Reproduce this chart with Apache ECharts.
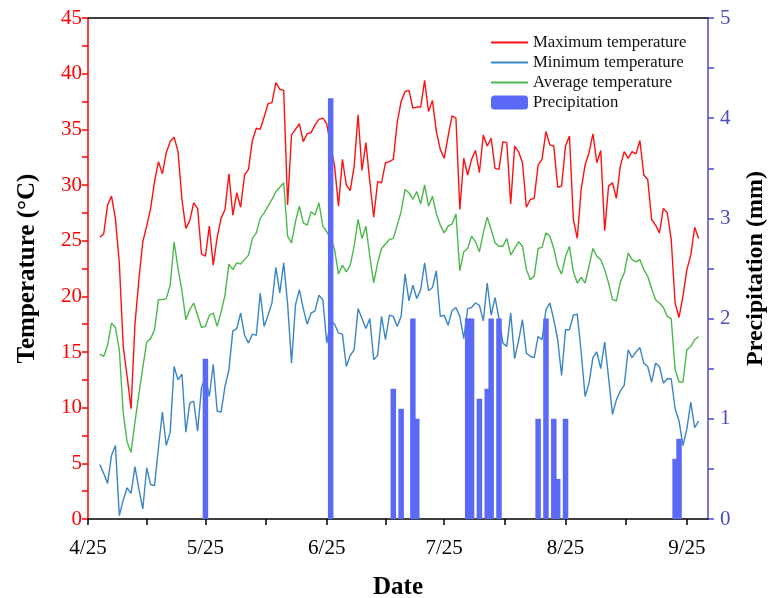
<!DOCTYPE html>
<html><head><meta charset="utf-8">
<script src="https://cdn.jsdelivr.net/npm/echarts@6/dist/echarts.min.js"></script>
<style>html,body{margin:0;padding:0;background:#fff}#c{width:768px;height:598px}</style>
</head><body><div id="c"></div>
<script>
// day index counted from 4/25 (day 0); daily series start at 4/28 (day 3)
const startDay = 3;
const maxTemp = [25.3,25.6,28.2,29.0,27.0,23.0,15.5,12.8,9.9,17.5,21.5,24.9,26.3,27.9,30.3,32.1,31.0,32.9,33.9,34.3,
33.0,28.7,26.1,26.8,28.4,27.9,23.8,23.6,26.3,22.8,25.3,27.0,27.8,31.0,27.3,29.3,28.0,30.9,31.4,34.0,
35.1,35.0,36.1,37.3,37.4,39.2,38.6,38.5,28.2,34.5,35.0,35.5,33.9,34.6,34.7,35.4,35.9,36.0,35.5,33.5,
31.7,28.1,32.3,30.0,29.5,31.7,36.3,31.3,33.8,30.3,27.1,30.3,30.2,32.0,32.1,32.3,35.6,37.5,38.4,38.5,
36.9,37.0,37.0,39.4,36.6,37.6,34.8,33.2,32.4,34.4,36.2,36.0,27.8,32.4,30.9,32.3,33.1,31.1,34.5,33.5,
34.2,31.5,31.4,33.9,33.8,28.3,33.5,33.0,32.0,28.0,28.7,28.8,31.8,32.3,34.8,33.6,33.5,29.8,29.9,33.5,
34.4,26.9,25.2,29.6,31.8,32.9,34.6,32.0,33.1,25.9,29.9,30.2,28.8,31.7,33.0,32.4,33.0,32.8,34.0,30.9,
30.5,26.9,26.4,25.7,27.9,27.5,25.1,19.4,18.1,20.0,22.4,23.7,26.2,25.2];
const minTemp = [4.9,4.1,3.2,5.7,6.6,0.3,1.7,2.8,2.3,4.7,2.7,0.9,4.6,3.1,3.0,6.4,9.6,6.6,7.8,13.7,
12.5,13.0,7.8,10.4,10.6,7.9,11.8,12.8,11.0,13.9,9.7,9.6,11.9,13.4,16.9,17.1,18.5,16.5,15.8,16.6,
16.5,20.3,17.3,18.3,19.4,22.6,20.3,23.0,19.3,14.0,19.2,20.6,18.9,17.5,18.5,18.7,20.1,19.7,15.8,17.8,
17.5,16.7,16.6,13.7,14.7,15.2,18.9,18.0,17.1,18.0,14.3,14.7,18.2,16.1,18.3,18.2,17.3,18.2,22.0,19.6,
21.0,19.8,20.6,23.0,20.5,20.8,22.3,18.2,18.3,17.4,18.7,19.0,18.2,16.2,18.9,19.0,19.4,19.2,17.8,21.2,
18.3,19.9,18.0,15.8,15.5,18.5,14.4,16.0,17.9,14.9,14.6,14.5,16.4,16.1,18.8,19.4,17.9,16.1,12.9,17.0,
17.0,18.3,18.4,15.0,11.0,12.2,14.5,15.0,13.5,15.9,12.7,9.4,10.7,11.5,12.0,15.2,14.5,15.0,15.4,14.0,
13.7,12.3,14.0,13.7,12.2,12.6,12.6,9.9,8.8,6.6,8.1,10.5,8.2,8.8];
const avgTemp = [14.8,14.6,15.6,17.6,17.2,15.2,9.5,6.9,6.0,8.7,11.2,13.6,15.9,16.2,17.0,19.7,19.7,19.8,21.0,24.9,
22.5,20.5,17.9,18.8,19.4,18.3,17.2,17.3,18.3,18.5,17.3,18.6,20.1,22.9,22.4,23.0,22.9,23.3,23.7,25.2,
25.7,27.0,27.5,28.1,28.7,29.4,29.8,30.2,25.4,24.8,26.7,28.1,26.6,26.4,27.6,27.3,28.4,26.3,25.8,25.2,
24.2,22.0,22.8,22.2,22.8,24.5,26.9,25.2,26.3,23.6,21.2,23.0,24.3,24.7,25.1,25.2,26.4,27.6,29.6,29.3,
28.7,29.4,28.3,30.0,28.1,29.0,27.4,26.4,25.7,26.3,26.5,27.4,22.3,24.0,24.3,25.4,24.9,24.0,25.7,27.1,
26.0,24.8,24.5,24.5,25.2,23.7,24.3,24.9,24.5,22.4,21.5,21.8,24.3,24.4,25.7,25.4,24.3,22.7,22.0,23.6,
24.5,22.2,21.2,21.7,21.2,22.7,24.3,23.6,23.3,22.4,21.2,19.7,19.6,21.3,22.1,23.9,23.3,23.1,23.3,22.4,
21.8,20.7,19.7,19.4,19.0,18.2,18.0,13.4,12.3,12.3,15.2,15.5,16.1,16.4];
const precipDays = [30,62,78,80,83,84,97,98,100,102,103,105,115,117,119,120,122,150,151];
const precipValues = [1.6,4.2,1.3,1.1,2.0,1.0,2.0,2.0,1.2,1.3,2.0,2.0,1.0,2.0,1.0,0.4,1.0,0.6,0.8];
const tickDays = [0,30,61,91,122,153];
const tickLabels = ['4/25','5/25','6/25','7/25','8/25','9/25'];
const minorTickDays = [15,45.5,76,106.5,137.5];

const toPairs = arr => arr.map((v,i)=>[startDay+i, v]);
const allTicks = tickDays.concat(minorTickDays).sort((a,b)=>a-b);
const serif = 'Liberation Serif';
const leftColor = '#ff0000';
const rightColor = '#4b4bc4';

const chart = echarts.init(document.getElementById('c'), null, {renderer:'canvas'});
chart.setOption({
  animation:false,
  backgroundColor:'#fff',
  grid:{left:88, right:60, top:18, bottom:79, outerBoundsMode:'none', containLabel:false},
  legend:{
    orient:'vertical', left:485, top:29, itemWidth:37, itemHeight:14, itemGap:3,
    data:[
      {name:'Maximum temperature', itemStyle:{opacity:0}},
      {name:'Minimum temperature', itemStyle:{opacity:0}},
      {name:'Average temperature', itemStyle:{opacity:0}},
      {name:'Precipitation'}
    ],
    textStyle:{fontFamily:serif, fontSize:16.7, color:'#111'}
  },
  xAxis:[{
    type:'value', min:0, max:158.4, position:'bottom',
    name:'Date', nameLocation:'middle', nameGap:56,
    nameTextStyle:{fontFamily:serif, fontSize:25, fontWeight:'bold', color:'#000'},
    axisLine:{show:true, onZero:false, lineStyle:{color:'#000', width:1.5}},
    axisTick:{show:true, customValues:allTicks, length:6, lineStyle:{color:'#000', width:1.5}},
    axisLabel:{customValues:tickDays, margin:19, fontFamily:serif, fontSize:21, color:'#000',
      formatter:v=>{const i=tickDays.indexOf(v); return i>=0?tickLabels[i]:'';}},
    splitLine:{show:false}
  },{
    type:'value', min:0, max:158.4, position:'top',
    axisLine:{show:true, onZero:false, lineStyle:{color:'#000', width:1.5}},
    axisTick:{show:false}, axisLabel:{show:false}, splitLine:{show:false}
  }],
  yAxis:[{
    type:'value', min:0, max:45, interval:5, position:'left',
    name:'Temperature (°C)', nameLocation:'middle', nameGap:48, nameRotate:90,
    nameTextStyle:{fontFamily:serif, fontSize:25, fontWeight:'bold', color:'#000'},
    axisLine:{show:true, onZero:false, lineStyle:{color:leftColor, width:1.5}},
    axisTick:{show:true, length:6, lineStyle:{color:leftColor, width:1.5}},
    minorTick:{show:true, splitNumber:2, length:6, lineStyle:{color:leftColor, width:1.5}},
    axisLabel:{margin:6, fontFamily:serif, fontSize:21, color:leftColor},
    splitLine:{show:false}, minorSplitLine:{show:false}
  },{
    type:'value', min:0, max:5, interval:1, position:'right',
    name:'Precipitation (mm)', nameLocation:'middle', nameGap:36, nameRotate:90,
    nameTextStyle:{fontFamily:serif, fontSize:24, fontWeight:'bold', color:'#000'},
    axisLine:{show:true, onZero:false, lineStyle:{color:rightColor, width:1.5}},
    axisTick:{show:true, length:6, lineStyle:{color:rightColor, width:1.5}},
    minorTick:{show:true, splitNumber:2, length:6, lineStyle:{color:rightColor, width:1.5}},
    axisLabel:{margin:12, fontFamily:serif, fontSize:21, color:rightColor},
    splitLine:{show:false}, minorSplitLine:{show:false}
  }],
  series:[
    {name:'Maximum temperature', type:'line', data:toPairs(maxTemp), symbol:'none', z:2,
     lineStyle:{color:'#ff1010', width:1.4}, itemStyle:{color:'#ff1010'}},
    {name:'Minimum temperature', type:'line', data:toPairs(minTemp), symbol:'none', z:2,
     lineStyle:{color:'#3a85c6', width:1.4}, itemStyle:{color:'#3a85c6'}},
    {name:'Average temperature', type:'line', data:toPairs(avgTemp), symbol:'none', z:2,
     lineStyle:{color:'#4cb84c', width:1.4}, itemStyle:{color:'#4cb84c'}},
    {name:'Precipitation', type:'bar', yAxisIndex:1, barWidth:5.5, z:3,
     data:precipDays.map((d,i)=>[d, precipValues[i]]), itemStyle:{color:'#5a6af6'}}
  ]
});
</script></body></html>
